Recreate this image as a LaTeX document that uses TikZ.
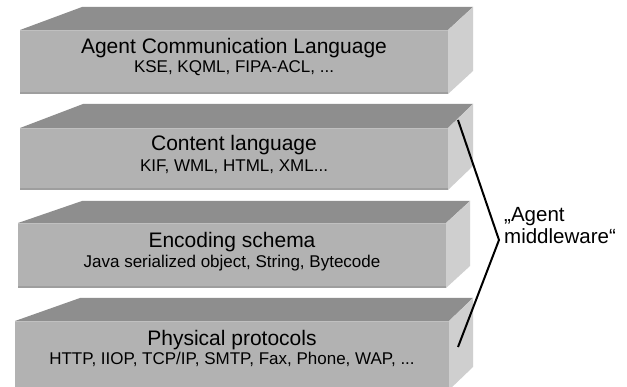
\documentclass[tikz,border=0pt]{standalone}
\usepackage{fontspec}
\setmainfont{Liberation Sans}
\usetikzlibrary{calc}
\definecolor{topc}{HTML}{8E8E8E}
\definecolor{frontc}{HTML}{B2B2B2}
\definecolor{sidec}{HTML}{CFCFCF}
\definecolor{rimlight}{HTML}{C0C0C0}
\definecolor{rimdark}{HTML}{9E9E9E}
\tikzset{
  topface/.style={fill=topc},
  frontface/.style={fill=frontc},
  sideface/.style={fill=sidec},
  rimtop/.style={draw=rimlight, line width=1.2pt},
  rimbottom/.style={draw=rimdark, line width=2pt},
  titletext/.style={anchor=base, font=\fontsize{21}{25}\selectfont, inner sep=0pt},
  subtext/.style={anchor=base, font=\fontsize{17}{20}\selectfont, inner sep=0pt},
  bracket/.style={line width=2pt, draw=black, line join=miter},
  sidelabel/.style={anchor=base west, font=\fontsize{20.5}{24}\selectfont, inner sep=0pt}
}
% #1 name, #2 x left, #3 x right, #4 y front top, #5 y front bottom,
% #6 y back top, #7 x back left, #8 x back right
\newcommand\layerbox[8]{%
  \coordinate (#1-tl) at (#2,#4);
  \coordinate (#1-tr) at (#3,#4);
  \coordinate (#1-bl) at (#2,#5);
  \coordinate (#1-br) at (#3,#5);
  \coordinate (#1-btl) at (#7,#6);
  \coordinate (#1-btr) at (#8,#6);
  \coordinate (#1-bbr) at (#8,{#5-#4+#6});
  \path[topface] (#1-tl) -- (#1-btl) -- (#1-btr) -- (#1-tr) -- cycle;
  \path[sideface] (#1-tr) -- (#1-btr) -- (#1-bbr) -- (#1-br) -- cycle;
  \path[frontface] (#1-tl) rectangle (#1-br);
  \draw[rimtop] ($(#1-tl)+(0,0.6)$) -- ($(#1-tr)+(0,0.6)$);
  \draw[rimbottom] ($(#1-bl)+(0,-1)$) -- ($(#1-br)+(0,-1)$);
}
\begin{document}
\begin{tikzpicture}[x=1pt,y=-1pt]
  \useasboundingbox (0,0) rectangle (627,387);
  \clip (0,0) rectangle (627,387);
  \fill[white] (0,0) rectangle (627,387);

  \layerbox{acl}{20}{448}{30}{94}{7}{82}{473}
  \layerbox{cl}{20}{448}{128}{190}{104}{83}{473}
  \layerbox{enc}{18}{446}{223}{288}{201}{82}{470}
  \layerbox{phy}{15}{449}{321}{390}{298}{80}{473}

  \node[titletext] (acl-title) at (234,54) {Agent Communication Language};
  \node[subtext]   (acl-sub)   at (234,73) {KSE, KQML, FIPA-ACL, ...};
  \node[titletext] (cl-title)  at (234,151) {Content language};
  \node[subtext]   (cl-sub)    at (234,172) {KIF, WML, HTML, XML...};
  \node[titletext] (enc-title) at (232,248) {Encoding schema};
  \node[subtext]   (enc-sub)   at (232,268) {Java serialized object, String, Bytecode};
  \node[titletext] (phy-title) at (232,346) {Physical protocols};
  \node[subtext]   (phy-sub)   at (232,365) {HTTP, IIOP, TCP/IP, SMTP, Fax, Phone, WAP, ...};

  \coordinate (br-top) at (458,120);
  \coordinate (br-mid) at (499,240);
  \coordinate (br-bot) at (458,347);
  \draw[bracket] (br-top) -- (br-mid) -- (br-bot);

  \node[sidelabel] (mw-1) at (504,222) {„Agent};
  \node[sidelabel] (mw-2) at (504,244) {middleware“};
\end{tikzpicture}
\end{document}
